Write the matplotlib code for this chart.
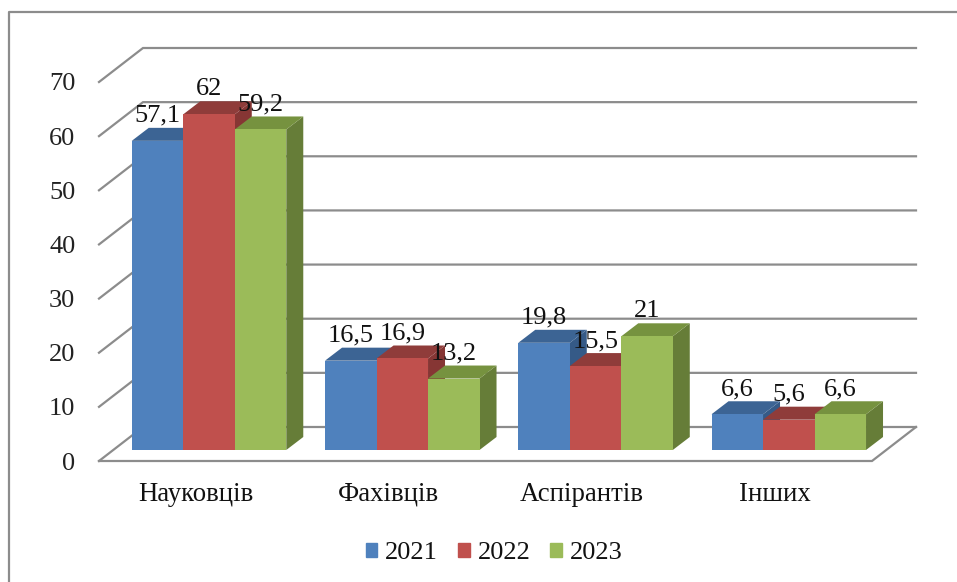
import matplotlib
matplotlib.use('Agg')
from matplotlib import pyplot as plt
from matplotlib.patches import Polygon, Patch
from matplotlib.lines import Line2D

categories = ['Науковців', 'Фахівців', 'Аспірантів', 'Інших']
years = ['2021', '2022', '2023']
values_2021 = [57.1, 16.5, 19.8, 6.6]
values_2022 = [62, 16.9, 15.5, 5.6]
values_2023 = [59.2, 13.2, 21, 6.6]
labels_2021 = ['57,1', '16,5', '19,8', '6,6']
labels_2022 = ['62', '16,9', '15,5', '5,6']
labels_2023 = ['59,2', '13,2', '21', '6,6']
y_ticks = [0, 10, 20, 30, 40, 50, 60, 70]

front_colors = ['#4F81BD', '#C0504D', '#9BBB59']
top_colors = ['#3C6494', '#8F3C3A', '#76923F']
side_colors = ['#355A87', '#863634', '#667D38']
grid_color = '#8C8C8C'

W, H = 957, 582
plt.rcParams['font.family'] = ['Liberation Serif', 'DejaVu Serif']
plt.rcParams['font.size'] = 19

fig = plt.figure(figsize=(W / 100, H / 100), dpi=100)
# axes = front plane of the fake 3D box
ax = fig.add_axes([99 / W, 1 - 461 / H, 773 / W, 379 / H])
ax.set_xlim(-0.5, 3.5)
ax.set_ylim(0, 70)
ax.patch.set_visible(False)
for s in ax.spines.values():
	s.set_visible(False)

# one pixel in data units
px_x = 4.0 / 773
px_y = 70.0 / 379

wall_dx = 44 * px_x
wall_dy = 34 * px_y
bar_dx = 17 * px_x
bar_dy = 13 * px_y
bar_w = 51.5 * px_x
bar_shift = 13.4 * px_x
bar_floor = 11 * px_y

# walls and floor
for v in y_ticks:
	ax.plot([-0.5, -0.5 + wall_dx, 3.5 + wall_dx], [v, v + wall_dy, v + wall_dy],
		color=grid_color, lw=1.6, clip_on=False, zorder=1, solid_joinstyle='miter')
ax.plot([-0.5, 3.5, 3.5 + wall_dx], [0, 0, wall_dy], color=grid_color, lw=1.6,
	clip_on=False, zorder=1, solid_joinstyle='miter')

# bars, left to right so the next one covers the hidden side
series = [values_2021, values_2022, values_2023]
labels = [labels_2021, labels_2022, labels_2023]
z = 2
for i in range(len(categories)):
	for j in range(3):
		v = series[j][i]
		left = i + bar_shift + (j - 1.5) * bar_w
		right = left + bar_w
		top = bar_floor + v
		side = Polygon([(right, bar_floor), (right + bar_dx, bar_floor + bar_dy),
			(right + bar_dx, top + bar_dy), (right, top)], closed=True,
			fc=side_colors[j], ec='none', clip_on=False, zorder=z)
		cap = Polygon([(left, top), (left + bar_dx, top + bar_dy),
			(right + bar_dx, top + bar_dy), (right, top)], closed=True,
			fc=top_colors[j], ec='none', clip_on=False, zorder=z)
		ax.add_patch(side)
		ax.add_patch(cap)
		ax.bar(left, v, bar_w, bottom=bar_floor, align='edge', color=front_colors[j],
			clip_on=False, zorder=z)
		z += 1

for i in range(len(categories)):
	for j in range(3):
		ax.text(i + bar_shift + (j - 1) * bar_w, bar_floor + series[j][i] + bar_dy + 1.1,
			labels[j][i], ha='center', va='baseline', color='#111111', zorder=50, clip_on=False)

ax.set_xticks(range(4))
ax.set_xticklabels(categories, color='#111111', fontsize=19.3)
ax.set_yticks(y_ticks)
ax.tick_params(axis='both', length=0)
ax.tick_params(axis='y', pad=17, labelcolor='#222222')
ax.tick_params(axis='x', pad=15)

# outer frame, only left and top are inside the picture
fig.add_artist(Line2D([9 / W, 9 / W, 1], [0, 1 - 12 / H, 1 - 12 / H],
	color='#8C8C8C', lw=1.6))

handles = [Patch(color=c) for c in front_colors]
fig.legend(handles, years, loc='center', bbox_to_anchor=(494 / W, 1 - 553 / H), ncol=3,
	frameon=False, handlelength=0.45, handleheight=0.45, handletextpad=0.3,
	columnspacing=0.74, labelcolor='#111111')

fig.savefig('out.png', dpi=100)
